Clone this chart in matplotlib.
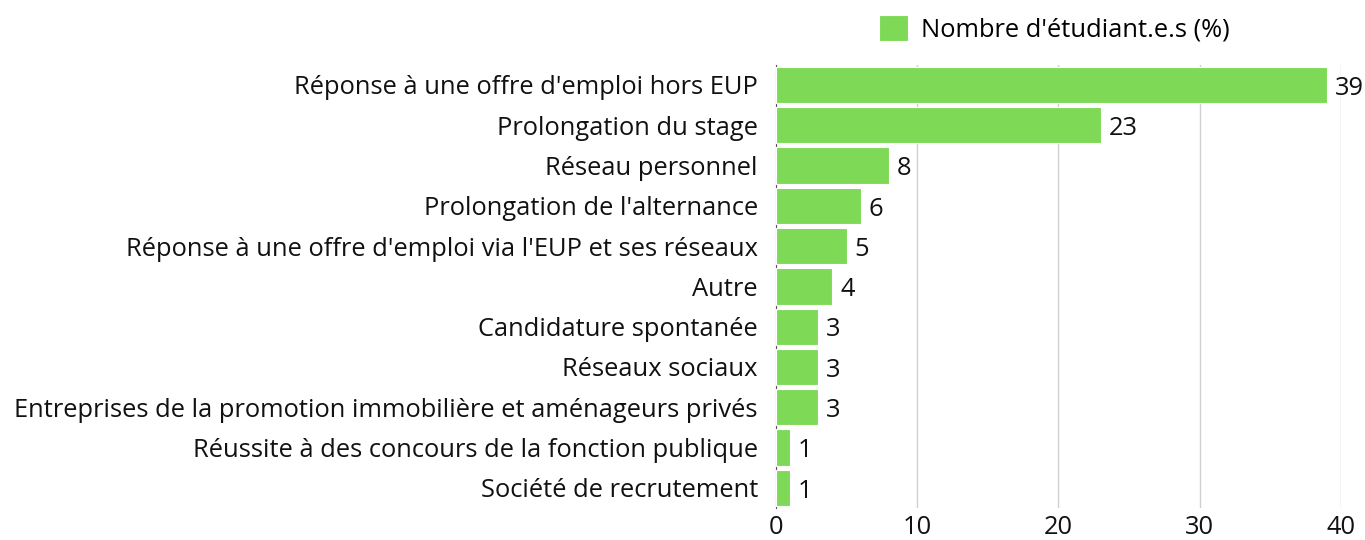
import numpy as np
import matplotlib.pyplot as plt

plt.rcParams['font.family'] = ['Open Sans', 'DejaVu Sans']

categories = [
    "Réponse à une offre d'emploi hors EUP",
    "Prolongation du stage",
    "Réseau personnel",
    "Prolongation de l'alternance",
    "Réponse à une offre d'emploi via l'EUP et ses réseaux",
    "Autre",
    "Candidature spontanée",
    "Réseaux sociaux",
    "Entreprises de la promotion immobilière et aménageurs privés",
    "Réussite à des concours de la fonction publique",
    "Société de recrutement",
]
values = [39, 23, 8, 6, 5, 4, 3, 3, 3, 1, 1]
series_name = "Nombre d'étudiant.e.s (%)"
xticks = [0, 10, 20, 30, 40]

fs = 18.4

fig = plt.figure(figsize=(13.65, 5.4), dpi=100)
ax = fig.add_axes([0.5685, 0.0593, 0.4139, 0.8207])

y = np.arange(len(categories))
bars = ax.barh(y, values, height=0.9, color='#7ed957', edgecolor='white',
               linewidth=0.8, label=series_name, zorder=3)
for yi, v in zip(y, values):
    ax.text(v + 0.55, yi + 0.08, str(v), va='center', ha='left', fontsize=fs, color='#111111')

ax.set_yticks(y)
ax.set_yticklabels(categories, fontsize=fs, color='#111111')
ax.set_ylim(len(categories) - 0.5, -0.5)
ax.set_xlim(0, 40)
ax.set_xticks(xticks)
ax.set_xticklabels([str(t) for t in xticks], fontsize=fs, color='#111111')
ax.tick_params(axis='y', length=0, pad=13)
ax.tick_params(axis='x', length=0, pad=5)
ax.grid(axis='x', color='#d0d0d0', linewidth=1, zorder=0)
for s in ['top', 'right', 'bottom']:
    ax.spines[s].set_visible(False)
ax.spines['left'].set_color('#555555')
ax.spines['left'].set_linewidth(0.8)

fig.legend(handles=[bars], labels=[series_name], loc='center', bbox_to_anchor=(1054 / 1365, 1 - 29 / 540),
           frameon=False, fontsize=fs, handlelength=1.15, handleheight=1.15, handletextpad=0.5)

fig.savefig('out.png', dpi=100)
